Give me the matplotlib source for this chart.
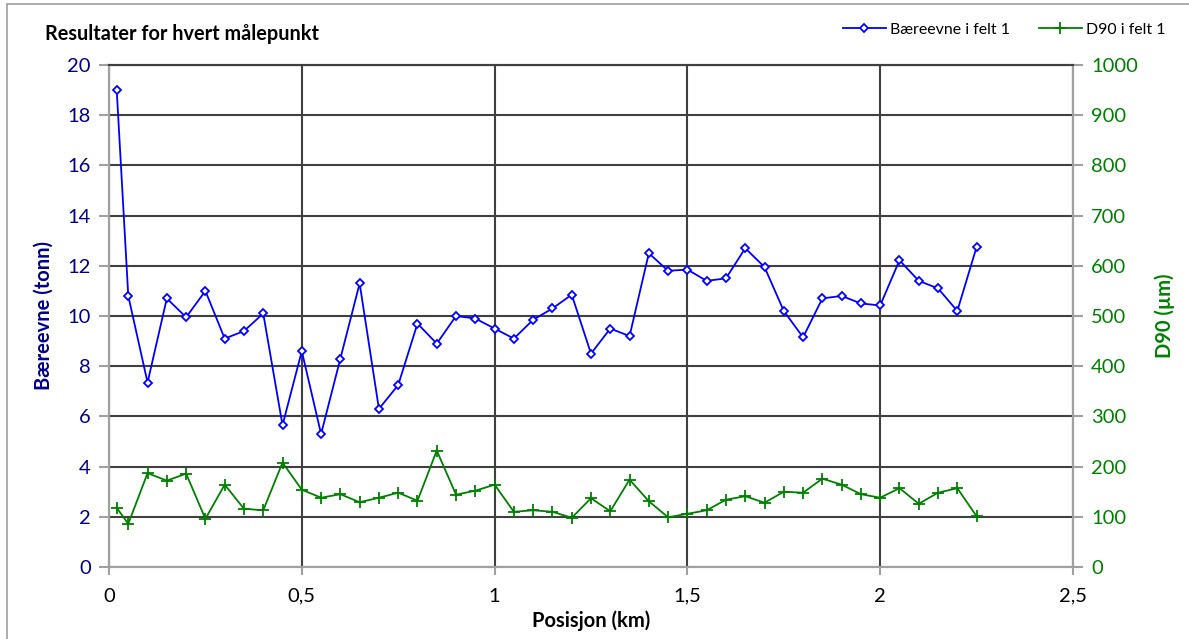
import matplotlib.pyplot as plt
import numpy as np

plt.rcParams['font.family'] = ['Lato', 'DejaVu Sans']

pos = [0.02, 0.05, 0.10, 0.15, 0.20, 0.25, 0.30, 0.35, 0.40, 0.45, 0.50, 0.55, 0.60,
       0.65, 0.70, 0.75, 0.80, 0.85, 0.90, 0.95, 1.00, 1.05, 1.10, 1.15, 1.20, 1.25,
       1.30, 1.35, 1.40, 1.45, 1.50, 1.55, 1.60, 1.65, 1.70, 1.75, 1.80, 1.85, 1.90,
       1.95, 2.00, 2.05, 2.10, 2.15, 2.20, 2.25]
baereevne = [19.0, 10.8, 7.35, 10.7, 9.95, 11.0, 9.1, 9.4, 10.1, 5.65, 8.6, 5.3, 8.3,
             11.3, 6.3, 7.25, 9.7, 8.9, 10.0, 9.9, 9.5, 9.1, 9.85, 10.3, 10.85, 8.5,
             9.5, 9.2, 12.5, 11.8, 11.85, 11.4, 11.5, 12.7, 11.95, 10.2, 9.15, 10.7, 10.8,
             10.5, 10.42, 12.22, 11.4, 11.1, 10.2, 12.75]
d90 = [118, 86, 187, 172, 186, 96, 164, 116, 113, 208, 154, 138, 145,
       129, 138, 148, 132, 232, 144, 152, 164, 110, 113, 110, 98, 137,
       111, 174, 131, 99, 106, 113, 134, 141, 128, 150, 148, 176, 164,
       145, 138, 157, 126, 148, 157, 101]

navy = '#00008B'
green = '#008000'
grid_c = '#404040'

fig = plt.figure(figsize=(11.89, 6.39), dpi=100)
ax = fig.add_axes([109/1189, 1 - 567/639, (1073 - 109)/1189, (567 - 65)/639])
ax2 = ax.twinx()

l1, = ax.plot(pos, baereevne, color='#0000FF', lw=1.3, marker='D', ms=4.5,
              mfc='white', mec='#0000FF', mew=1.3, label='Bæreevne i felt 1', zorder=5)
l2, = ax2.plot(pos, d90, color=green, lw=1.3, marker='+', ms=8, mew=1.3,
               label='D90 i felt 1', zorder=5)

ax.set_xlim(0, 2.5)
ax.set_ylim(0, 20)
ax2.set_ylim(0, 1000)
ax.set_yticks(np.arange(0, 21, 2))
ax2.set_yticks(np.arange(0, 1001, 100))
ax.set_xticks([0, 0.5, 1, 1.5, 2, 2.5])
ax.set_xticklabels(['0', '0,5', '1', '1,5', '2', '2,5'])

ax.grid(True, color=grid_c, lw=1.5)
ax.set_axisbelow(True)
for s in ['left', 'bottom', 'right']:
    ax.spines[s].set_color('#A0A0A0')
    ax2.spines[s].set_color('#A0A0A0')
ax.spines['top'].set_color(grid_c)
ax2.spines['top'].set_color(grid_c)
for a in (ax, ax2):
    for s in a.spines.values():
        s.set_linewidth(1.5)

ax.tick_params(axis='y', colors='#A0A0A0', labelcolor=navy, labelsize=14.5, length=7,
               width=1.5, pad=6)
ax2.tick_params(axis='y', colors='#A0A0A0', labelcolor=green, labelsize=14.5, length=7,
                width=1.5, pad=6)
ax.tick_params(axis='x', colors='#A0A0A0', labelcolor='black', labelsize=14.5, length=6,
               width=1.5, pad=9)

ax.set_xlabel('Posisjon (km)', fontsize=14.5, fontweight='bold', labelpad=4)
ax.set_ylabel('Bæreevne (tonn)', fontsize=14.5, fontweight='bold', color=navy, labelpad=10)
ax2.set_ylabel('D90 (µm)', fontsize=14.5, fontweight='bold', color=green, labelpad=12)

fig.text(45/1189, 1 - 34/639, 'Resultater for hvert målepunkt', fontsize=14.3,
         fontweight='bold', va='center', ha='left')

fig.legend(handles=[l1, l2], loc='center right', bbox_to_anchor=(1180/1189, 1 - 30/639),
           ncol=2, frameon=False, fontsize=11.4, handlelength=2.7, columnspacing=1.8,
           handletextpad=0.3)

# outer chart border
fig.patches.append(plt.Rectangle((7/1189, -0.01), 1.1, 1 - 4/639 + 0.01,
                                 transform=fig.transFigure, fill=False,
                                 edgecolor='#A0A0A0', lw=1.2))

fig.savefig('out.png', dpi=100)
